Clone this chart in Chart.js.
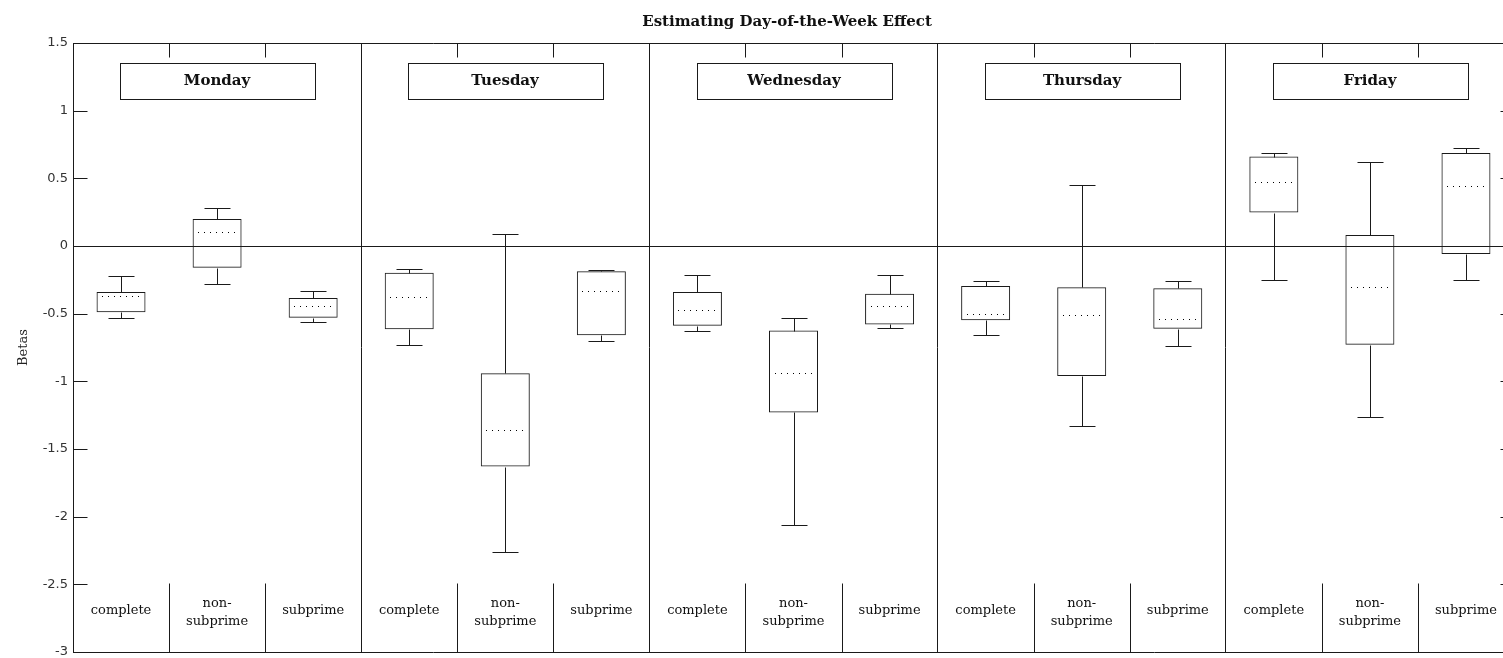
<!DOCTYPE html>
<html>
<head>
<meta charset="utf-8">
<title>Estimating Day-of-the-Week Effect</title>
<script src="https://cdn.jsdelivr.net/npm/chart.js@4/dist/chart.umd.min.js"></script>
<style>
  html, body { margin: 0; padding: 0; background: #fff; overflow: hidden; }
  #wrap { width: 1520px; height: 658px; }
</style>
</head>
<body>
<div id="wrap"><canvas id="myChart" width="1520" height="658"></canvas></div>
<script>
const days = ['Monday', 'Tuesday', 'Wednesday', 'Thursday', 'Friday'];
const groups = ['complete', ['non-', 'subprime'], 'subprime'];

// five boxes per statistic, in the order Mon..Fri x (complete, non-subprime, subprime)
const whiskerLow  = [-0.53, -0.28, -0.56,  -0.73, -2.26, -0.70,  -0.63, -2.06, -0.605,  -0.66, -1.333, -0.738,  -0.252, -1.264, -0.25];
const q1          = [-0.49, -0.16, -0.53,  -0.615, -1.63, -0.66,  -0.59, -1.23, -0.58,  -0.548, -0.96, -0.612,  0.247, -0.73, -0.06];
const median      = [-0.37,  0.10, -0.444, -0.38, -1.363, -0.336,  -0.47, -0.94, -0.444,  -0.506, -0.513, -0.543,  0.474, -0.30, 0.44];
const q3          = [-0.34,  0.20, -0.385, -0.198, -0.94, -0.187,  -0.34, -0.625, -0.353,  -0.296, -0.304, -0.313,  0.661, 0.081, 0.687];
const whiskerHigh = [-0.222, 0.28, -0.333, -0.168, 0.091, -0.178,  -0.215, -0.53, -0.215,  -0.26, 0.454, -0.26,  0.687, 0.622, 0.726];

const yTickValues = [1.5, 1, 0.5, 0, -0.5, -1, -1.5, -2, -2.5, -3];

const ink = '#1a1a1a';
const labels = [];
days.forEach(() => groups.forEach(g => labels.push(g)));

function hline(ctx, x1, x2, yy) {
  ctx.beginPath();
  ctx.moveTo(x1, yy);
  ctx.lineTo(x2, yy);
  ctx.stroke();
}
function vline(ctx, xx, y1, y2) {
  ctx.beginPath();
  ctx.moveTo(xx, y1);
  ctx.lineTo(xx, y2);
  ctx.stroke();
}
const snap = v => Math.round(v) + 0.5;

// whiskers, medians, frame ticks, group names and the day boxes
const boxPlot = {
  id: 'boxPlot',
  afterDatasetsDraw(chart) {
    const {ctx, chartArea: a, scales: {x, y}} = chart;
    const left = snap(a.left), right = snap(a.right), top = snap(a.top), bottom = snap(a.bottom);
    ctx.save();
    ctx.strokeStyle = ink;
    ctx.lineWidth = 1;

    hline(ctx, left, right, top);
    vline(ctx, right, top, bottom);

    // inward ticks on both y axes
    yTickValues.forEach(v => {
      const py = snap(y.getPixelForValue(v));
      hline(ctx, left, left + 14, py);
      hline(ctx, right - 14, right, py);
    });

    // separators between groups inside a day
    const sepTop = snap(y.getPixelForValue(-2.49));
    for (let i = 1; i < labels.length; i++) {
      if (i % 3 === 0) continue;
      const px = snap((x.getPixelForValue(i - 1) + x.getPixelForValue(i)) / 2);
      vline(ctx, px, top, top + 14);
      vline(ctx, px, sepTop, bottom);
    }

    for (let i = 0; i < labels.length; i++) {
      const cx = snap(x.getPixelForValue(i));
      const hi = snap(y.getPixelForValue(whiskerHigh[i]));
      const up = snap(y.getPixelForValue(q3[i]));
      const lo = snap(y.getPixelForValue(q1[i]));
      const wl = snap(y.getPixelForValue(whiskerLow[i]));
      vline(ctx, cx, hi, up);
      vline(ctx, cx, lo, wl);
      hline(ctx, cx - 13, cx + 13, hi);
      hline(ctx, cx - 13, cx + 13, wl);

      const md = snap(y.getPixelForValue(median[i]));
      ctx.strokeStyle = '#000';
      ctx.setLineDash([1, 5]);
      hline(ctx, cx - 19.5, cx + 20, md);
      ctx.setLineDash([]);
      ctx.strokeStyle = ink;
    }

    // group names inside the bottom band
    ctx.font = '13px "DejaVu Serif"';
    ctx.fillStyle = '#111';
    ctx.textAlign = 'center';
    ctx.textBaseline = 'middle';
    labels.forEach((lab, i) => {
      const cx = x.getPixelForValue(i);
      if (Array.isArray(lab)) {
        ctx.fillText(lab[0], cx, a.bottom - 48);
        ctx.fillText(lab[1], cx, a.bottom - 30);
      } else {
        ctx.fillText(lab, cx, a.bottom - 41);
      }
    });

    // day name boxes
    ctx.font = 'bold 15px "DejaVu Serif"';
    days.forEach((d, k) => {
      const cx = Math.round(x.getPixelForValue(3 * k + 1));
      ctx.fillStyle = '#fff';
      ctx.fillRect(cx - 97, a.top + 20, 195, 36);
      ctx.strokeRect(cx - 97 + 0.5, Math.round(a.top) + 20.5, 195, 36);
      ctx.fillStyle = '#111';
      ctx.fillText(d, cx, a.top + 38);
    });
    ctx.restore();
  },
  afterDraw(chart) {
    const ctx = chart.ctx;
    ctx.save();
    ctx.font = 'bold 15px "DejaVu Serif"';
    ctx.fillStyle = '#111';
    ctx.textAlign = 'center';
    ctx.textBaseline = 'middle';
    ctx.fillText('Estimating Day-of-the-Week Effect', 787, 22);
    ctx.restore();
  }
};

const config = {
  type: 'bar',
  data: {
    labels: labels,
    datasets: [{
      label: 'Betas',
      data: q1.map((v, i) => [v, q3[i]]),
      backgroundColor: 'rgba(255,255,255,0)',
      borderColor: ink,
      borderWidth: 1,
      borderSkipped: false,
      barPercentage: 0.51,
      categoryPercentage: 1
    }]
  },
  options: {
    responsive: false,
    animation: false,
    layout: { padding: { left: 0, right: 6, top: 43, bottom: 0 } },
    plugins: {
      legend: { display: false },
      tooltip: { enabled: false }
    },
    scales: {
      x: {
        type: 'category',
        offset: true,
        afterFit(scale) {
          scale.height = 6;
          scale.paddingLeft = 0;
          scale.paddingRight = 0;
        },
        grid: {
          offset: true,
          drawTicks: false,
          color: c => (c.index % 3 === 0 ? ink : 'rgba(0,0,0,0)'),
          lineWidth: 1
        },
        border: { display: true, color: ink, width: 1 },
        ticks: { display: false }
      },
      y: {
        min: -3,
        max: 1.5,
        afterFit(scale) {
          scale.width = 73;
          scale.paddingTop = 0;
          scale.paddingBottom = 0;
        },
        afterBuildTicks(scale) { scale.ticks = yTickValues.map(v => ({ value: v })); },
        grid: {
          drawTicks: false,
          color: c => (c.tick && c.tick.value === 0 ? ink : 'rgba(0,0,0,0)'),
          lineWidth: 1
        },
        border: { display: true, color: ink, width: 1 },
        ticks: {
          padding: 5,
          color: '#333',
          font: { family: '"DejaVu Sans"', size: 13 },
          callback: v => String(+v.toFixed(1))
        },
        title: {
          display: true,
          text: 'Betas',
          color: '#222',
          padding: { top: 16, bottom: 0 },
          font: { family: '"DejaVu Serif"', size: 13 }
        }
      }
    }
  },
  plugins: [boxPlot]
};

var myChart = new Chart(document.getElementById('myChart'), config);
</script>
</body>
</html>
